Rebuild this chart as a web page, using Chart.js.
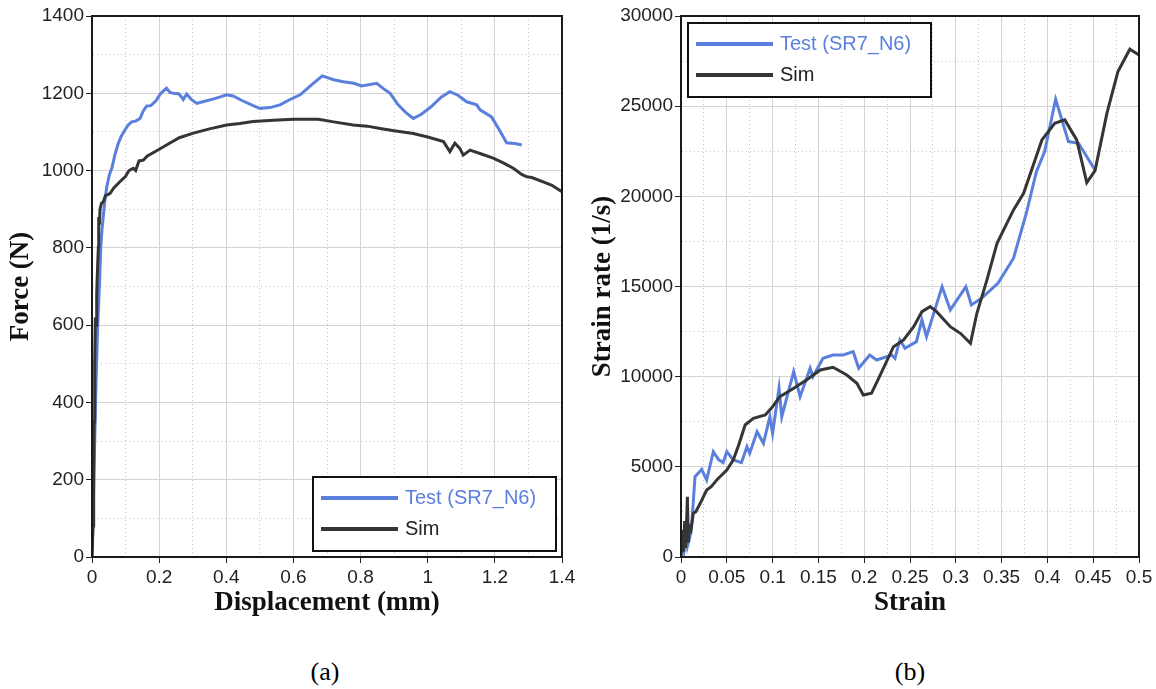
<!DOCTYPE html>
<html>
<head>
<meta charset="utf-8">
<script src="https://cdn.jsdelivr.net/npm/chart.js@4.4.1/dist/chart.umd.min.js"></script>
<style>
    body { margin: 0; background: #fff; width: 1156px; height: 689px; position: relative; overflow: hidden; }
    .panel { position: absolute; top: 0; }
    .caption { position: absolute; top: 657px; width: 100px; text-align: center; font-family: "Liberation Serif", serif; font-size: 26px; color: #000; }
</style>
</head>
<body>
<div class="panel" style="left:0; width:580px; height:625px;"><canvas id="forceChart" width="580" height="625"></canvas></div>
<div class="panel" style="left:580px; width:576px; height:625px;"><canvas id="rateChart" width="576" height="625"></canvas></div>
<div class="caption" style="left:275px;">(a)</div>
<div class="caption" style="left:860px;">(b)</div>
<script>
// (a) force vs displacement
const testDisp = [0, 0.003, 0.008, 0.012, 0.017, 0.022, 0.026, 0.03, 0.038, 0.044, 0.052, 0.059, 0.068, 0.078, 0.088, 0.098,
    0.108, 0.118, 0.13, 0.143, 0.153, 0.163, 0.175, 0.19, 0.205, 0.222, 0.232, 0.242, 0.258, 0.267, 0.272, 0.282, 0.295,
    0.312, 0.33, 0.36, 0.38, 0.401, 0.42, 0.45, 0.48, 0.5, 0.53, 0.56, 0.59, 0.62, 0.654, 0.686, 0.72, 0.749, 0.78, 0.803,
    0.848, 0.868, 0.888, 0.912, 0.935, 0.957, 0.98, 1.01, 1.04, 1.066, 1.09, 1.116, 1.146, 1.156, 1.19, 1.21, 1.235, 1.26, 1.28];
const testForce = [0, 100, 300, 450, 600, 700, 800, 850, 920, 958, 990, 1006, 1040, 1070, 1090, 1105,
    1118, 1126, 1128, 1135, 1155, 1167, 1168, 1180, 1200, 1213, 1202, 1200, 1199, 1190, 1184, 1198, 1185,
    1174, 1178, 1185, 1190, 1196, 1193, 1180, 1168, 1161, 1163, 1170, 1184, 1196, 1222, 1245, 1235, 1230, 1226, 1219,
    1226, 1212, 1200, 1170, 1150, 1135, 1145, 1165, 1190, 1204, 1195, 1178, 1170, 1157, 1139, 1110, 1072, 1070, 1066];
const simDisp = [0, 0.003, 0.005, 0.006, 0.008, 0.01, 0.012, 0.014, 0.017, 0.019, 0.02, 0.022, 0.024, 0.028, 0.034, 0.04,
    0.047, 0.054, 0.065, 0.083, 0.1, 0.11, 0.123, 0.13, 0.14, 0.153, 0.165, 0.19, 0.222, 0.26, 0.302, 0.35, 0.401, 0.44,
    0.48, 0.54, 0.6, 0.674, 0.72, 0.778, 0.82, 0.858, 0.9, 0.957, 1.0, 1.047, 1.066, 1.081, 1.095, 1.106, 1.126, 1.16,
    1.195, 1.225, 1.255, 1.28, 1.295, 1.31, 1.344, 1.37, 1.4];
const simForce = [0, 80, 200, 350, 500, 620, 600, 680, 760, 803, 880, 860, 900, 915, 920, 935,
    938, 941, 955, 971, 985, 1000, 1006, 1000, 1025, 1027, 1038, 1050, 1066, 1085, 1097, 1108, 1118, 1122,
    1127, 1130, 1133, 1133, 1126, 1118, 1115, 1109, 1103, 1096, 1087, 1075, 1049, 1071, 1058, 1040, 1053, 1043,
    1032, 1020, 1006, 990, 984, 982, 971, 962, 945];

// (b) strain rate vs strain
const testStrain = [0, 0.003, 0.005, 0.007, 0.0098, 0.012, 0.0153, 0.0226, 0.028, 0.0353, 0.041, 0.046, 0.05, 0.057,
    0.066, 0.072, 0.075, 0.083, 0.09, 0.097, 0.1, 0.107, 0.11, 0.123, 0.13, 0.141, 0.144, 0.155, 0.166, 0.177, 0.188,
    0.194, 0.206, 0.2136, 0.23, 0.2336, 0.239, 0.2445, 0.257, 0.263, 0.268, 0.285, 0.294, 0.311, 0.317, 0.328, 0.346,
    0.363, 0.377, 0.388, 0.397, 0.409, 0.423, 0.434, 0.452];
const testRate = [760, 300, 1500, 600, 1127, 2000, 4453, 4862, 4270, 5840, 5400, 5232, 5840, 5380,
    5232, 6118, 5750, 6950, 6306, 7781, 6861, 9357, 7781, 10277, 8890, 10466, 10000, 11020, 11200, 11200, 11386,
    10466, 11200, 10926, 11200, 11020, 12035, 11575, 11941, 13145, 12218, 14992, 13700, 14992, 13977, 14346, 15180,
    16567, 19063, 21371, 22480, 25385, 23035, 22943, 21464];
const simStrain = [0, 0.002, 0.003, 0.004, 0.005, 0.006, 0.007, 0.008, 0.009, 0.011, 0.0134, 0.016, 0.021, 0.028, 0.033,
    0.039, 0.05, 0.057, 0.063, 0.07, 0.079, 0.092, 0.1, 0.108, 0.123, 0.137, 0.152, 0.166, 0.181, 0.192, 0.199, 0.208,
    0.215, 0.232, 0.243, 0.254, 0.263, 0.272, 0.279, 0.294, 0.305, 0.316, 0.323, 0.334, 0.345, 0.363, 0.374, 0.394,
    0.408, 0.419, 0.432, 0.443, 0.452, 0.465, 0.477, 0.49, 0.5];
const simRate = [0, 1500, 300, 2000, 500, 1800, 3344, 800, 1700, 1500, 2423, 2500, 2978, 3716, 3900,
    4270, 4825, 5380, 6212, 7321, 7690, 7876, 8336, 8890, 9357, 9817, 10372, 10520, 10094, 9634, 8985, 9079,
    9817, 11664, 12035, 12773, 13605, 13882, 13605, 12773, 12405, 11850, 13516, 15363, 17397, 19246, 20171, 23128,
    24053, 24238, 23128, 20760, 21426, 24609, 26917, 28159, 27843];

const seriesNames = ['Test (SR7_N6)', 'Sim'];
const testColor = '#5a7fdc';
const simColor = '#353535';

const tickFont = { family: '"Liberation Sans", Arial, sans-serif', size: 19 };
const titleFont = { family: '"Liberation Serif", "Times New Roman", serif', size: 27, weight: 'bold' };

function toPoints(xs, ys) {
    return xs.map((x, i) => ({ x: x, y: ys[i] }));
}

// major ticks every second step, minor ones dotted in between
function isMajor(value, perUnit) {
    return Math.round(value * perUnit) % 2 === 0;
}

function axis(min, max, step, perUnit, decimals, fixedSize, horizontal, title, titlePad) {
    return {
        type: 'linear',
        min: min,
        max: max,
        ticks: {
            stepSize: step,
            autoSkip: false,
            maxRotation: 0,
            minRotation: 0,
            font: tickFont,
            color: '#222',
            padding: horizontal ? 3 : 2,
            callback: (v) => isMajor(v, perUnit) ? String(parseFloat(v.toFixed(decimals))) : ''
        },
        grid: {
            color: (c) => (c.tick && isMajor(c.tick.value, perUnit)) ? '#d4d4d4' : '#c4c4c4',
            tickColor: (c) => (c.tick && isMajor(c.tick.value, perUnit)) ? '#222' : 'rgba(0,0,0,0)',
            tickLength: 6,
            lineWidth: 1
        },
        border: {
            color: '#1a1a1a',
            width: 2,
            dash: (c) => (c.tick && !isMajor(c.tick.value, perUnit)) ? [1, 3] : []
        },
        title: {
            display: true,
            text: title,
            font: titleFont,
            color: '#111',
            padding: titlePad
        },
        afterFit: (scale) => {
            if (horizontal) scale.height = fixedSize; else scale.width = fixedSize;
        }
    };
}

// box around the plot area plus the in-plot key
const framePlugin = {
    id: 'frameAndKey',
    afterDraw(chart, args, opts) {
        const ctx = chart.ctx;
        const a = chart.chartArea;
        ctx.save();
        ctx.strokeStyle = '#1a1a1a';
        ctx.lineWidth = 2;
        ctx.strokeRect(a.left, a.top, a.right - a.left, a.bottom - a.top);

        const w = 243, h = 74;
        const bx = opts.corner === 'bottomRight' ? a.right - 6 - w : a.left + 7;
        const by = opts.corner === 'bottomRight' ? a.bottom - 6 - h : a.top + 7;
        ctx.fillStyle = '#fff';
        ctx.fillRect(bx, by, w, h);
        ctx.strokeStyle = '#111';
        ctx.lineWidth = 2;
        ctx.strokeRect(bx, by, w, h);

        const legendItems = [chart.data.datasets[0], chart.data.datasets[1]];
        legendItems.forEach((ds, i) => {
            const y = by + 21 + i * 31;
            ctx.strokeStyle = ds.borderColor;
            ctx.lineWidth = 4;
            ctx.beginPath();
            ctx.moveTo(bx + 8, y);
            ctx.lineTo(bx + 85, y);
            ctx.stroke();
            ctx.fillStyle = i === 0 ? testColor : '#222';
            ctx.font = '20px "Liberation Sans", Arial, sans-serif';
            ctx.textBaseline = 'middle';
            ctx.fillText(ds.label, bx + 92, y);
        });
        ctx.restore();
    }
};

function makeChart(id, testPts, simPts, xScale, yScale, padding, corner) {
    return new Chart(document.getElementById(id).getContext('2d'), {
        type: 'line',
        data: {
            datasets: [{
                label: seriesNames[0],
                data: testPts,
                borderColor: testColor,
                borderWidth: 3,
                pointRadius: 0,
                tension: 0,
                order: 1
            }, {
                label: seriesNames[1],
                data: simPts,
                borderColor: simColor,
                borderWidth: 3,
                pointRadius: 0,
                tension: 0,
                order: 0
            }]
        },
        options: {
            responsive: false,
            animation: false,
            layout: { padding: padding },
            plugins: {
                legend: { display: false },
                tooltip: { enabled: false },
                frameAndKey: { corner: corner }
            },
            scales: { x: xScale, y: yScale }
        },
        plugins: [framePlugin]
    });
}

// Initialize the force-displacement chart
const forceChart = makeChart('forceChart',
    toPoints(testDisp, testForce), toPoints(simDisp, simForce),
    axis(0, 1.4, 0.1, 10, 1, 68, true, 'Displacement (mm)', { top: 0, bottom: 6 }),
    axis(0, 1400, 100, 0.01, 0, 92, false, 'Force (N)', { top: 5, bottom: 0 }),
    { top: 16, right: 18, left: 0, bottom: 0 }, 'bottomRight');

// Initialize the strain rate chart
const rateChart = makeChart('rateChart',
    toPoints(testStrain, testRate), toPoints(simStrain, simRate),
    axis(0, 0.5, 0.025, 40, 3, 68, true, 'Strain', { top: 0, bottom: 6 }),
    axis(0, 30000, 2500, 1 / 2500, 0, 101, false, 'Strain rate (1/s)', { top: 7, bottom: 0 }),
    { top: 16, right: 17, left: 0, bottom: 0 }, 'topLeft');
</script>
</body>
</html>
